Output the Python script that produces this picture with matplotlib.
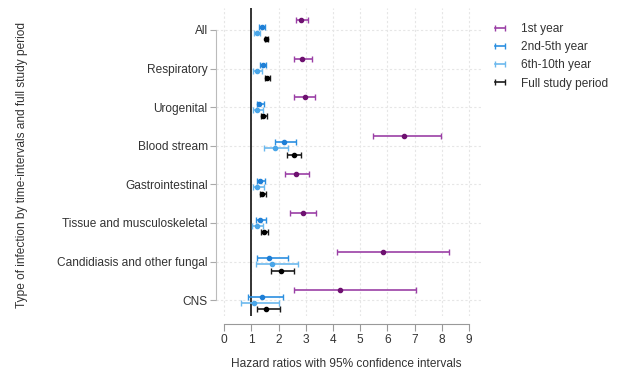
import matplotlib
matplotlib.use("Agg")
import matplotlib.pyplot as plt
from matplotlib.lines import Line2D
import numpy as np

plt.rcParams['font.family'] = ['Liberation Sans', 'DejaVu Sans']

categories = ["All", "Respiratory", "Urogenital", "Blood stream", "Gastrointestinal",
              "Tissue and musculoskeletal", "Candidiasis and other fungal", "CNS"]
series_names = ["1st year", "2nd-5th year", "6th-10th year", "Full study period"]

# hazard ratio, lower CI, upper CI per category
hr_1st  = [2.83, 2.87, 2.95, 6.62, 2.63, 2.88, 5.85, 4.24]
lo_1st  = [2.62, 2.57, 2.57, 5.48, 2.24, 2.43, 4.13, 2.55]
hi_1st  = [3.09, 3.24, 3.35, 7.95, 3.10, 3.37, 8.27, 7.05]

hr_2_5  = [1.37, 1.41, 1.28, 2.21, 1.32, 1.32, 1.64, 1.37]
lo_2_5  = [1.27, 1.30, 1.19, 1.86, 1.19, 1.16, 1.19, 0.88]
hi_2_5  = [1.48, 1.55, 1.45, 2.62, 1.51, 1.53, 2.33, 2.17]

hr_6_10 = [1.19, 1.22, 1.22, 1.85, 1.19, 1.19, 1.74, 1.10]
lo_6_10 = [1.10, 1.07, 1.07, 1.47, 1.05, 1.02, 1.16, 0.62]
hi_6_10 = [1.31, 1.40, 1.41, 2.33, 1.46, 1.43, 2.70, 2.00]

hr_full = [1.53, 1.57, 1.44, 2.55, 1.40, 1.46, 2.10, 1.55]
lo_full = [1.48, 1.49, 1.35, 2.29, 1.30, 1.34, 1.70, 1.19]
hi_full = [1.60, 1.68, 1.57, 2.83, 1.52, 1.61, 2.58, 2.06]

x_ticks = [0, 1, 2, 3, 4, 5, 6, 7, 8, 9]

series = [
    (hr_1st, lo_1st, hi_1st, "#9b3fa6", "#6e1170", -0.26),
    (hr_2_5, lo_2_5, hi_2_5, "#2b8fe0", "#1f7fd6", -0.09),
    (hr_6_10, lo_6_10, hi_6_10, "#6cb9ee", "#4aa6e8", 0.07),
    (hr_full, lo_full, hi_full, "#1a1a1a", "#000000", 0.24),
]

FS = 8.6
fig = plt.figure(figsize=(6.21, 3.72), dpi=100)
W, H = 621, 372
ax = fig.add_axes([216 / W, (H - 316) / H, 266 / W, 308 / H])

for s in ["top", "right"]:
    ax.spines[s].set_visible(False)
ax.spines["bottom"].set_position(("outward", 6))

ypos = np.arange(len(categories))
ax.set_xlim(-0.305, 9.475)
ax.set_ylim(7.41, -0.57)

# grid
for xv in x_ticks:
    ax.axvline(xv, color="#e6e6e6", lw=0.8, ls=(0, (2, 2)), zorder=0)
for yv in ypos:
    ax.axhline(yv, color="#e6e6e6", lw=0.8, ls=(0, (2, 2)), zorder=0)

ax.axvline(1, color="#333333", lw=1.4, zorder=1)

handles = []
for (hr, lo, hi, lc, mc, off), name in zip(series, series_names):
    hr = np.array(hr); lo = np.array(lo); hi = np.array(hi)
    ax.errorbar(hr, ypos + off, xerr=[hr - lo, hi - hr], fmt="o", color=lc,
                ecolor=lc, mfc=mc, mec=mc, ms=3.0, elinewidth=1.2,
                capsize=2.0, capthick=1.0, zorder=3)
    handles.append(Line2D([], [], color=lc, lw=1.2, marker="|", ms=4, mew=1.0))

ax.set_yticks(ypos)
ax.set_yticklabels(categories, fontsize=FS, color="#333333")
ax.set_xticks(x_ticks)
ax.set_xticklabels([str(v) for v in x_ticks], fontsize=FS, color="#333333")

ax.spines["left"].set_bounds(0, 7)
ax.spines["left"].set_color("#bbbbbb")
ax.spines["bottom"].set_bounds(0, 9)
ax.spines["bottom"].set_color("#999999")
ax.tick_params(axis="y", length=4, width=0.8, color="#aaaaaa", pad=2)
ax.tick_params(axis="x", length=5, width=0.8, color="#999999", pad=2)

fig.text(346 / W, 1 - 364 / H, "Hazard ratios with 95% confidence intervals",
         ha="center", va="center", fontsize=FS, color="#333333")
fig.text(22 / W, 1 - 165 / H, "Type of infection by time-intervals and full study period",
         rotation=90, ha="center", va="center", fontsize=FS, color="#333333")

leg = fig.legend(handles=handles, labels=series_names, numpoints=2,
                 loc="upper left", bbox_to_anchor=(491 / W, 1 - 23 / H),
                 frameon=False, fontsize=FS, handlelength=1.5, handletextpad=1.0,
                 labelspacing=0.52, borderaxespad=0, borderpad=0)
for t in leg.get_texts():
    t.set_color("#333333")

fig.savefig("out.png", dpi=100)
